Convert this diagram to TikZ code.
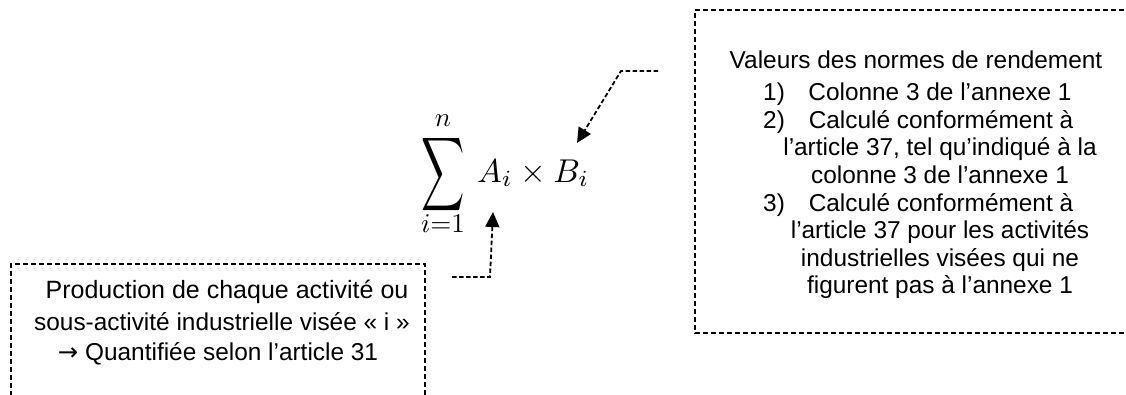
\documentclass[tikz,border=0pt]{standalone}
\usepackage{fontspec}
\setmainfont{Liberation Sans}
\newfontfamily\arrowfont{DejaVu Sans}
\usetikzlibrary{arrows.meta}
\tikzset{
  box/.style={draw=black, line width=1.2pt, dash pattern=on 5pt off 3pt},
  conn/.style={draw=black, line width=1.8pt, dash pattern=on 4.5pt off 2.5pt,
    -{Triangle[length=15pt,width=14pt]}},
  txt/.style={anchor=base, inner sep=0pt, font=\fontsize{24.4}{28}\selectfont},
  mth/.style={inner sep=0pt}
}
\begin{document}
\begin{tikzpicture}[x=1pt,y=-1pt]
\useasboundingbox (0,0) rectangle (1126,394);
% boxes
\draw[box] (11,420) -- (11,264) -- (425,264) -- (425,420);
\draw[box] (1140,10) -- (695,10) -- (695,333) -- (1140,333);
% left text
\node[txt, font=\fontsize{25}{28}\selectfont] (la) at (227,298) {Production de chaque activité ou};
\node[txt] (lb) at (222,330) {sous-activité industrielle visée « i »};
\node[txt] (lc) at (218,360) {{\arrowfont →} Quantifiée selon l’article 31};
% right text
\node[txt] (r0) at (916,68) {Valeurs des normes de rendement};
\node[txt, anchor=base west] (n1) at (763,100) {1)};
\node[txt] (r1) at (940,100) {Colonne 3 de l’annexe 1};
\node[txt, anchor=base west] (n2) at (763,128) {2)};
\node[txt] (r2) at (941,128) {Calculé conformément à};
\node[txt] (r3) at (940,155) {l’article 37, tel qu’indiqué à la};
\node[txt] (r4) at (940,183) {colonne 3 de l’annexe 1};
\node[txt, anchor=base west] (n3) at (763,211) {3)};
\node[txt] (r5) at (941,211) {Calculé conformément à};
\node[txt] (r6) at (940,238) {l’article 37 pour les activités};
\node[txt] (r7) at (940,266) {industrielles visées qui ne};
\node[txt] (r8) at (940,293) {figurent pas à l’annexe 1};
% formula
\node[mth] (sig) at (443,175) {\scalebox{3.0}[5.15]{$\displaystyle\sum$}};
\node[mth, anchor=base] (sup) at (443,126) {\scalebox{2.7}{$n$}};
\node[mth, anchor=base] (sub) at (443,232) {\scalebox{2.7}{$i{=}1$}};
\node[mth, anchor=base west] (ab) at (477,182) {\scalebox{3.3}{$A_i \times B_i$}};
% connectors
\coordinate (bs) at (658,71);
\coordinate (bk) at (621,71);
\coordinate (bt) at (577,143);
\draw[conn] (bs) -- (bk) -- (bt);
\coordinate (as) at (452,277);
\coordinate (ak) at (490,277);
\coordinate (at) at (493,212);
\draw[conn] (as) -- (ak) -- (at);
\end{tikzpicture}
\end{document}
